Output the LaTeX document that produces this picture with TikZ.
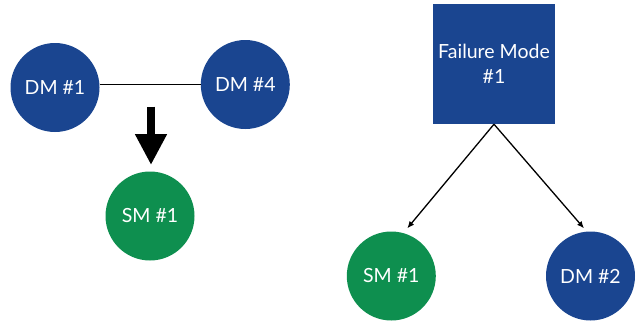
\documentclass[tikz,border=0pt]{standalone}
\usepackage{fontspec}
\setmainfont{Lato}
\usetikzlibrary{arrows.meta}
\definecolor{dmblue}{HTML}{1A4590}
\definecolor{smgreen}{HTML}{0E8F4F}
\begin{document}
\begin{tikzpicture}[x=1pt,y=-1pt,
  circ/.style={circle,minimum size=89pt,inner sep=0pt,text=white,font=\fontsize{19.5}{22}\selectfont},
  dm/.style={circ,fill=dmblue},
  sm/.style={circ,fill=smgreen},
  fmbox/.style={rectangle,fill=dmblue,minimum width=122pt,minimum height=120pt,inner sep=0pt,text=white,align=center,font=\fontsize{19.5}{25}\selectfont},
  thin arrow/.style={draw=black,line width=1.3pt,-{Latex[length=7pt,width=6pt]}},
  big arrow/.style={draw=black,line width=8pt,-{Triangle[length=31pt,width=30pt]}}
]
\useasboundingbox (0,0) rectangle (641,325);
\node[dm] (dm1) at (55,87.5) {DM \#1};
\node[dm] (dm4) at (245.3,84.5) {DM \#4};
\node[sm] (sm1a) at (150,216) {SM \#1};
\draw[line width=1.2pt] (dm1.east |- 0,84.3) -- (dm4.west |- 0,84.3);
\coordinate (bigtop) at (151,106.7);
\coordinate (bigtip) at (151,165);
\draw[big arrow] (bigtop) -- (bigtip);
\node[fmbox] (fm) at (494,64) {Failure Mode\\\#1};
\node[sm] (sm1b) at (391.3,276) {SM \#1};
\node[dm] (dm2) at (590.5,276) {DM \#2};
\coordinate (tipl) at (407.3,228.3);
\coordinate (tipr) at (584,228.3);
\draw[thin arrow] (fm.south) -- (tipl);
\draw[thin arrow] (fm.south) -- (tipr);
\end{tikzpicture}
\end{document}
